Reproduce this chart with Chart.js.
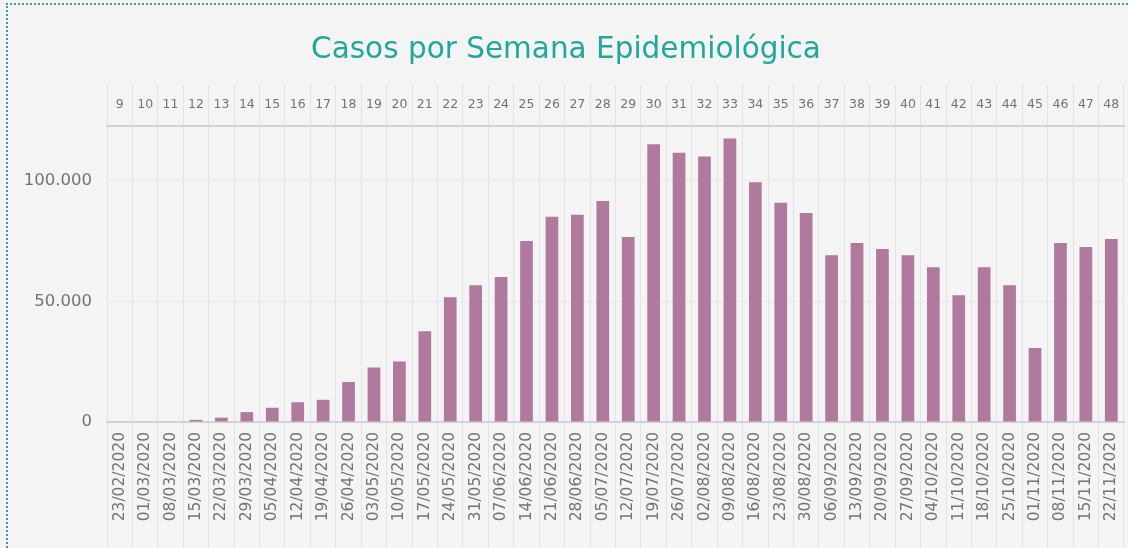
<!DOCTYPE html>
<html lang="es">
<head>
<meta charset="UTF-8">
<title>Casos por Semana Epidemiológica</title>
<style>
  html, body { margin: 0; padding: 0; background: #f4f4f4; }
  body { width: 1128px; height: 548px; overflow: hidden; position: relative; }
  .frame {
    position: absolute; left: 6px; top: 3px; width: 1122px; height: 545px;
    box-sizing: border-box;
    border-top: 2px dotted #3a9fa0; border-left: 2px dotted #3a9fa0;
  }
  .frame canvas { display: block; }
</style>
<script src="https://cdn.jsdelivr.net/npm/chart.js"></script>
</head>
<body>
<div class="frame"><canvas id="chart"></canvas></div>
<script>
// semanas epidemiológicas (eje superior)
const weeks = ['9', '10', '11', '12', '13', '14', '15', '16', '17', '18', '19', '20', '21', '22', '23', '24', '25', '26', '27', '28',
  '29', '30', '31', '32', '33', '34', '35', '36', '37', '38', '39', '40', '41', '42', '43', '44', '45', '46', '47', '48'];

// inicio de cada semana (eje inferior)
const dates = ['23/02/2020', '01/03/2020', '08/03/2020', '15/03/2020', '22/03/2020', '29/03/2020', '05/04/2020', '12/04/2020',
  '19/04/2020', '26/04/2020', '03/05/2020', '10/05/2020', '17/05/2020', '24/05/2020', '31/05/2020', '07/06/2020',
  '14/06/2020', '21/06/2020', '28/06/2020', '05/07/2020', '12/07/2020', '19/07/2020', '26/07/2020', '02/08/2020',
  '09/08/2020', '16/08/2020', '23/08/2020', '30/08/2020', '06/09/2020', '13/09/2020', '20/09/2020', '27/09/2020',
  '04/10/2020', '11/10/2020', '18/10/2020', '25/10/2020', '01/11/2020', '08/11/2020', '15/11/2020', '22/11/2020'];

// casos por semana
const cases = [0, 0, 0, 900, 1800, 4100, 5900, 8200, 9200, 16600, 22600, 25100, 37600, 51700, 56700, 60100, 75100, 85100,
  85900, 91700, 76700, 115200, 111700, 110100, 117600, 99400, 90900, 86700, 69200, 74200, 71700, 69200, 64200, 52600,
  64200, 56700, 30700, 74200, 72600, 75900];

const yTicks = [0, 50000, 100000];

const gridColor = '#e3e3e3';
const axisColor = '#d2d2d2';
const tickColor = '#737373';
const fontFamily = '"DejaVu Sans", Verdana, sans-serif';

function fmt(v) {
  return String(v).replace(/\B(?=(\d{3})+(?!\d))/g, '.');
}

new Chart(document.getElementById('chart'), {
  type: 'bar',
  data: {
    labels: dates,
    datasets: [{
      label: 'Casos',
      data: cases,
      backgroundColor: '#b07a9f',
      barPercentage: 0.5,
      categoryPercentage: 1
    }]
  },
  options: {
    responsive: true,
    maintainAspectRatio: false,
    animation: false,
    layout: { padding: { left: 0, right: 4, top: 0, bottom: 0 } },
    plugins: {
      legend: { display: false },
      tooltip: { enabled: false },
      title: {
        display: true,
        text: 'Casos por Semana Epidemiológica',
        color: '#22a79b',
        font: { family: fontFamily, size: 29.5, weight: 'normal', lineHeight: 1.2 },
        padding: { top: 28, bottom: 16.5 }
      }
    },
    scales: {
      x: {
        type: 'category',
        position: 'bottom',
        offset: true,
        grid: { offset: true, color: gridColor, tickLength: 126, drawOnChartArea: true },
        border: { display: true, color: axisColor, width: 2 },
        ticks: {
          autoSkip: false, minRotation: 90, maxRotation: 90, padding: -116,
          color: tickColor, font: { family: fontFamily, size: 15.5 }
        },
        afterFit: (s) => { s.height = 126; }
      },
      x2: {
        type: 'category',
        position: 'top',
        labels: weeks,
        offset: true,
        grid: { offset: true, color: gridColor, tickLength: 41, drawOnChartArea: false },
        border: { display: true, color: axisColor, width: 2 },
        ticks: {
          autoSkip: false, maxRotation: 0, padding: -27,
          color: tickColor, font: { family: fontFamily, size: 12.5 }
        },
        afterFit: (s) => { s.height = 41; }
      },
      y: {
        min: 0,
        max: 122800,
        grid: { color: '#ebebeb', drawTicks: false },
        border: { display: false },
        afterBuildTicks: (s) => { s.ticks = yTicks.map((v) => ({ value: v })); },
        ticks: {
          padding: 15,
          color: tickColor,
          font: { family: fontFamily, size: 16.5 },
          callback: (v) => fmt(v)
        },
        afterFit: (s) => { s.width = 99; }
      }
    }
  }
});
</script>
</body>
</html>
